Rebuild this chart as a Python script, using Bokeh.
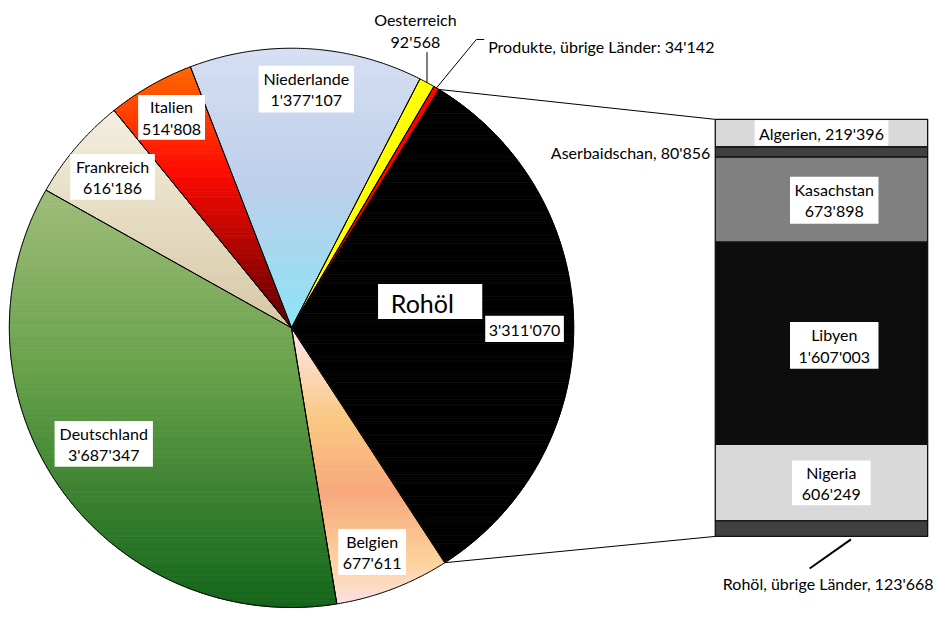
import numpy as np
from bokeh.plotting import figure
from bokeh.models import Range1d
from bokeh.embed import file_html
from bokeh.resources import INLINE
from bokeh.core.properties import value

# ---------------- data ----------------
pie_labels = ["Rohöl", "Belgien", "Deutschland", "Frankreich", "Italien",
              "Niederlande", "Oesterreich", "Produkte, übrige Länder"]
pie_values = [3311070, 677611, 3687347, 616186, 514808, 1377107, 92568, 34142]

bar_labels = ["Algerien", "Aserbaidschan", "Kasachstan", "Libyen", "Nigeria",
              "Rohöl, übrige Länder"]
bar_values = [219396, 80856, 673898, 1607003, 606249, 123668]

# ---------------- styles / layout ----------------
pie_gradients = {
    "Rohöl": [(0, "#000000"), (1, "#000000")],
    "Belgien": [(0, "#fde6f0"), (0.33, "#f9c882"), (0.6, "#f8a87c"),
                (0.85, "#fbd39c"), (1, "#fde0e2")],
    "Deutschland": [(0, "#a0bd7a"), (0.45, "#65a049"), (1, "#13651a")],
    "Frankreich": [(0, "#f4efdf"), (1, "#d6c8a5")],
    "Italien": [(0, "#ff6a00"), (0.4, "#ff0a00"), (1, "#5a0000")],
    "Niederlande": [(0, "#d6dff2"), (0.5, "#bccfea"), (1, "#8de4f6")],
    "Oesterreich": [(0, "#ffff00"), (1, "#ffff00")],
    "Produkte, übrige Länder": [(0, "#ff0000"), (1, "#ff0000")],
}
bar_colors = ["#d9d9d9", "#404040", "#808080", "#0d0d0d", "#d9d9d9", "#404040"]

FONT = value("Lato")
FS = "16px"
CX, CY, R = 296.0, 336.0, 287.0
START_DEG = 31.5
BX0, BX1, BY0, BY1 = 727.0, 943.0, 122.0, 550.0

# box labels: name -> (cx, cy, w, h)
pie_boxes = {
    "Niederlande": (311, 91, 97, 48),
    "Italien": (174, 120, 68, 46),
    "Frankreich": (114, 181, 86, 47),
    "Deutschland": (105, 455, 100, 47),
    "Belgien": (378, 566, 69, 47),
}
bar_boxes = {
    "Kasachstan": (848, 205, 90, 48),
    "Libyen": (848, 354, 90, 48),
    "Nigeria": (845, 495, 80, 46),
}


def fmt(v):
    return f"{v:,}".replace(",", "'")


def hex2rgb(h):
    return tuple(int(h[i:i + 2], 16) for i in (1, 3, 5))


def interp(stops, t):
    t = min(max(t, 0.0), 1.0)
    for (t0, c0), (t1, c1) in zip(stops, stops[1:]):
        if t <= t1:
            f = (t - t0) / (t1 - t0) if t1 > t0 else 0.0
            a, b = hex2rgb(c0), hex2rgb(c1)
            return "#%02x%02x%02x" % tuple(int(round(a[k] + (b[k] - a[k]) * f)) for k in range(3))
    return stops[-1][1]


def clip_half(pts, f):
    out = []
    n = len(pts)
    for i in range(n):
        p, q = pts[i], pts[(i + 1) % n]
        fp, fq = f(p), f(q)
        if fp >= 0:
            out.append(p)
        if (fp >= 0) != (fq >= 0):
            t = fp / (fp - fq)
            out.append((p[0] + t * (q[0] - p[0]), p[1] + t * (q[1] - p[1])))
    return out


def arc_pt(deg):
    a = np.radians(deg)
    return CX + R * np.sin(a), CY - R * np.cos(a)


# ---------------- figure ----------------
W, H = 936, 608
p = figure(width=W, height=H, x_range=Range1d(0, 952), y_range=Range1d(624, 0),
           output_backend="svg", toolbar_location=None, min_border=0,
           x_axis_location=None, y_axis_location=None)
p.grid.visible = False
p.outline_line_color = None
p.background_fill_color = "white"
p.border_fill_color = "white"

total = float(sum(pie_values))
band_xs, band_ys, band_cols = [], [], []
out_xs, out_ys = [], []
angles = []
a0 = START_DEG
for lab, v in zip(pie_labels, pie_values):
    span = 360.0 * v / total
    a1 = a0 + span
    angles.append((a0, a1))
    n = max(3, int(span / 0.4) + 1)
    aa = np.linspace(a0, a1, n)
    pts = [(CX, CY)] + [arc_pt(d) for d in aa]
    out_xs.append([q[0] for q in pts])
    out_ys.append([q[1] for q in pts])
    ys = [q[1] for q in pts]
    ymin, ymax = min(ys), max(ys)
    stops = pie_gradients[lab]
    nb = max(1, int((ymax - ymin) / 2.5))
    edges = np.linspace(ymin, ymax, nb + 1)
    for i in range(nb):
        y0, y1 = edges[i], edges[i + 1]
        poly = clip_half(pts, lambda q, y0=y0: q[1] - y0)
        if len(poly) < 3:
            continue
        poly = clip_half(poly, lambda q, y1=y1: y1 - q[1])
        if len(poly) < 3:
            continue
        col = interp(stops, ((y0 + y1) / 2 - ymin) / (ymax - ymin))
        band_xs.append([q[0] for q in poly])
        band_ys.append([q[1] for q in poly])
        band_cols.append(col)
    a0 = a1

p.patches(band_xs, band_ys, fill_color=band_cols, line_color=band_cols, line_width=0.8)
p.patches(out_xs, out_ys, fill_alpha=0, line_color="black", line_width=1)

# connector lines from the Rohöl slice to the bar
rs, re_ = angles[0]
sx, sy = arc_pt(rs)
ex, ey = arc_pt(re_)
p.segment(x0=[sx, ex], y0=[sy, ey], x1=[BX0, BX0], y1=[BY0, BY1], line_color="black", line_width=1)

# bar of Rohöl
btot = float(sum(bar_values))
cum = np.concatenate([[0], np.cumsum(bar_values)])
tops = BY0 + cum[:-1] / btot * (BY1 - BY0)
bots = BY0 + cum[1:] / btot * (BY1 - BY0)
p.quad(left=[BX0] * len(bar_values), right=[BX1] * len(bar_values), top=list(tops), bottom=list(bots),
       fill_color=bar_colors, line_color="#111111", line_width=1.3)

# ---------------- labels ----------------
def box(cx, cy, w, h):
    p.rect(x=[cx], y=[cy], width=[w], height=[h], fill_color="white", line_color=None)


def txt(x, y, s, align="center", size=FS):
    p.text(x=[x], y=[y], text=[s], text_font=FONT, text_font_size=size, text_align=align,
           text_baseline="middle", text_color="black")


vals = dict(zip(pie_labels, pie_values))
for lab, (cx, cy, w, h) in pie_boxes.items():
    box(cx, cy, w, h)
    txt(cx, cy - 11, lab)
    txt(cx, cy + 11, fmt(vals[lab]))

# Rohöl
box(437, 309, 106, 36)
txt(397, 310, "Rohöl", align="left", size="25px")
box(533, 337, 80, 27)
txt(533, 338, fmt(vals["Rohöl"]))

# Oesterreich
oa = angles[6]
ox, oy = arc_pt((oa[0] + oa[1]) / 2)
p.segment(x0=[ox], y0=[oy], x1=[ox], y1=[53], line_color="black", line_width=1)
txt(422, 19, "Oesterreich")
txt(422, 42, fmt(vals["Oesterreich"]))

# Produkte, übrige Länder
pa = angles[7]
px_, py_ = arc_pt((pa[0] + pa[1]) / 2)
p.line(x=[px_, 484, 492], y=[py_, 40, 40], line_color="black", line_width=1)
txt(496, 47, "Produkte, übrige Länder: " + fmt(vals["Produkte, übrige Länder"]), align="left")

# bar labels
bvals = dict(zip(bar_labels, bar_values))
box(835, 136, 136, 26)
txt(835, 137, "Algerien, " + fmt(bvals["Algerien"]))
txt(722, 156, "Aserbaidschan, " + fmt(bvals["Aserbaidschan"]), align="right")
for lab, (cx, cy, w, h) in bar_boxes.items():
    box(cx, cy, w, h)
    txt(cx, cy - 11, lab)
    txt(cx, cy + 11, fmt(bvals[lab]))

p.segment(x0=[865], y0=[BY1 + 3], x1=[823], y1=[583], line_color="black", line_width=2)
txt(949, 598, "Rohöl, übrige Länder, " + fmt(bvals["Rohöl, übrige Länder"]), align="right")

open("out.html", "w").write(file_html(p, INLINE))
